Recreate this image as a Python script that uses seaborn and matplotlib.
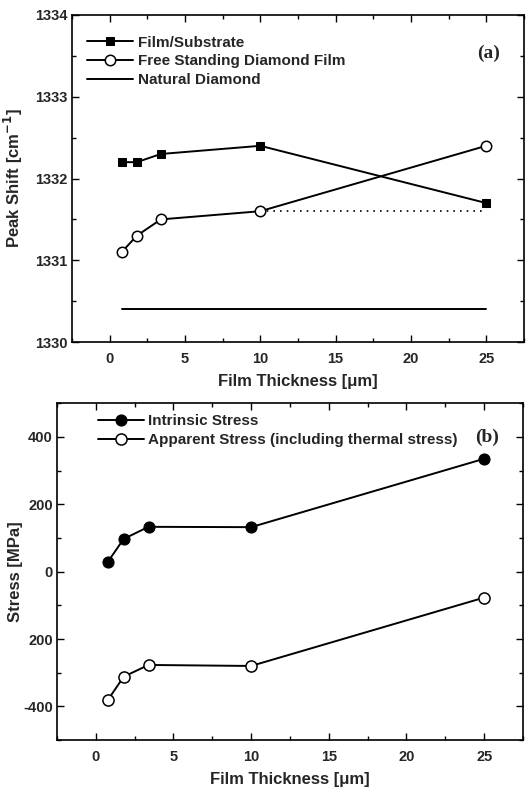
import matplotlib
matplotlib.use("Agg")
import matplotlib.pyplot as plt
import seaborn as sns
import numpy as np
from matplotlib.ticker import MultipleLocator, FixedLocator, FixedFormatter

sns.set_style("ticks")
plt.rcParams['font.family'] = ['Liberation Sans', 'DejaVu Sans']
plt.rcParams['font.weight'] = 'bold'

thickness = [0.8, 1.8, 3.4, 10, 25]
film_substrate = [1332.2, 1332.2, 1332.3, 1332.4, 1331.7]
free_standing = [1331.1, 1331.3, 1331.5, 1331.6, 1332.4]
natural_x = [0.8, 25]
natural_y = [1330.4, 1330.4]
dotted_x = [10, 25]
dotted_y = [1331.6, 1331.6]

intrinsic = [30, 97, 133, 132, 335]
apparent = [-380, -312, -277, -280, -77]

top_yticks = [1330, 1331, 1332, 1333, 1334]
bot_yticks = [-400, -200, 0, 200, 400]
bot_yticklabels = ["-400", "200", "0", "200", "400"]
xticks = [0, 5, 10, 15, 20, 25]

fig = plt.figure(figsize=(5.31, 7.89), dpi=100)
ax1 = fig.add_axes([0.1356, 0.5665, 0.851, 0.4145])
ax2 = fig.add_axes([0.107, 0.062, 0.878, 0.427])

lw = 1.4
sns.lineplot(x=thickness, y=film_substrate, ax=ax1, color='black', marker='s',
             markersize=6, markeredgecolor='black', linewidth=lw, label='Film/Substrate')
sns.lineplot(x=thickness, y=free_standing, ax=ax1, color='black', marker='o',
             markersize=7.5, markerfacecolor='white', markeredgecolor='black',
             markeredgewidth=1.1, linewidth=lw, label='Free Standing Diamond Film')
sns.lineplot(x=natural_x, y=natural_y, ax=ax1, color='black', linewidth=lw,
             label='Natural Diamond')
ax1.plot(dotted_x, dotted_y, color='black', linestyle=(0, (1, 3)), linewidth=1.2, zorder=1)

sns.lineplot(x=thickness, y=intrinsic, ax=ax2, color='black', marker='o',
             markersize=8, markeredgecolor='black', linewidth=lw, label='Intrinsic Stress')
sns.lineplot(x=thickness, y=apparent, ax=ax2, color='black', marker='o',
             markersize=8, markerfacecolor='white', markeredgecolor='black',
             markeredgewidth=1.1, linewidth=lw,
             label='Apparent Stress (including thermal stress)')

for ax in (ax1, ax2):
    ax.set_xlim(-2.5, 27.5)
    ax.xaxis.set_major_locator(FixedLocator(xticks))
    ax.xaxis.set_minor_locator(MultipleLocator(2.5))
    ax.tick_params(which='both', direction='in', top=True, right=True,
                   labelsize=10.5, width=1.0, color='black')
    ax.tick_params(which='major', length=5)
    ax.tick_params(which='minor', length=3)
    ax.tick_params(axis='x', which='major', pad=7)
    ax.tick_params(axis='y', which='major', pad=3)
    for s in ax.spines.values():
        s.set_linewidth(1.2)
        s.set_color('black')
    ax.set_xlabel('Film Thickness [μm]', fontsize=12, fontweight='bold', labelpad=6)

leg1 = ax1.legend(loc='upper left', bbox_to_anchor=(0.02, 0.955), frameon=False,
                  fontsize=11, handlelength=3.0, handletextpad=0.3, labelspacing=0.3,
                  borderaxespad=0.0)
leg2 = ax2.legend(loc='upper left', bbox_to_anchor=(0.075, 0.985), frameon=False,
                  fontsize=11, handlelength=3.0, handletextpad=0.3, labelspacing=0.3,
                  borderaxespad=0.0)
for leg in (leg1, leg2):
    for t in leg.get_texts():
        t.set_fontweight('bold')

ax1.set_ylim(1330, 1334)
ax1.yaxis.set_major_locator(FixedLocator(top_yticks))
ax1.yaxis.set_minor_locator(MultipleLocator(0.5))
ax1.set_ylabel('Peak Shift [cm$^{\\mathbf{-1}}$]', fontsize=12, fontweight='bold')
ax1.yaxis.set_label_coords(-0.104, 0.5)
ax1.text(0.947, 0.884, '(a)', transform=ax1.transAxes, ha='right', va='center',
         fontsize=14, fontweight='bold', family=['Liberation Serif', 'DejaVu Serif'])

ax2.set_ylim(-500, 500)
ax2.yaxis.set_major_locator(FixedLocator(bot_yticks))
ax2.yaxis.set_major_formatter(FixedFormatter(bot_yticklabels))
ax2.yaxis.set_minor_locator(MultipleLocator(100))
ax2.set_ylabel('Stress [MPa]', fontsize=12, fontweight='bold')
ax2.yaxis.set_label_coords(-0.073, 0.5)
ax2.text(0.948, 0.9, '(b)', transform=ax2.transAxes, ha='right', va='center',
         fontsize=14, fontweight='bold', family=['Liberation Serif', 'DejaVu Serif'])

for ax in (ax1, ax2):
    for lbl in ax.get_xticklabels() + ax.get_yticklabels():
        lbl.set_fontweight('bold')

fig.savefig('out.png', dpi=100)
